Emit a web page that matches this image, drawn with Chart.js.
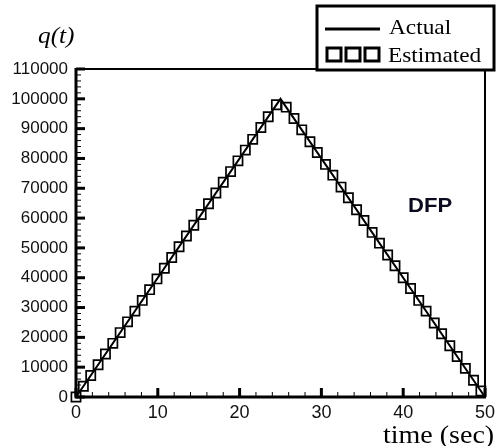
<!DOCTYPE html>
<html>
<head>
<meta charset="utf-8">
<script src="https://cdn.jsdelivr.net/npm/chart.js@4/dist/chart.umd.min.js"></script>
<style>
  html, body { margin: 0; padding: 0; background: #fff; }
  #wrap { width: 500px; height: 446px; }
</style>
</head>
<body>
<div id="wrap"><canvas id="qChart" width="500" height="446"></canvas></div>
<script>
// Actual trajectory (corner points of the triangle)
const actualTime = [0, 25, 50];
const actualQ = [0, 100000, 0];

// Estimated samples read off the markers
const estTime = [
    0, 0.9, 1.8, 2.7, 3.6, 4.5, 5.4, 6.3, 7.2, 8.1, 9.0, 9.9, 10.8, 11.7,
    12.6, 13.5, 14.4, 15.3, 16.2, 17.1, 18.0, 18.9, 19.8, 20.7, 21.6, 22.6, 23.5, 24.5,
    25.7, 26.65, 27.6, 28.6, 29.5, 30.5, 31.4, 32.4, 33.3, 34.3, 35.2, 36.2, 37.1,
    38.1, 39.0, 40.0, 40.9, 41.9, 42.8, 43.8, 44.7, 45.7, 46.6, 47.6, 48.6, 49.5
];
const estQ = [
    0, 3600, 7200, 10800, 14400, 18000, 21600, 25200, 28800, 32400, 36000, 39600, 43200, 46800,
    50400, 54000, 57600, 61200, 64800, 68400, 72000, 75600, 79200, 82800, 86400, 90400, 94000, 98000,
    97200, 93400, 89600, 85600, 82000, 78000, 74400, 70400, 66800, 62800, 59200, 55200, 51600,
    47600, 44000, 40000, 36400, 32400, 28800, 24800, 21200, 17200, 13600, 9600, 5600, 2000
];

// axis ticks
const xTickValues = [0, 10, 20, 30, 40, 50];
const yTickValues = [0, 10000, 20000, 30000, 40000, 50000, 60000, 70000, 80000, 90000, 100000, 110000];

const seriesNames = ["Actual", "Estimated"];

const toPoints = (xs, ys) => xs.map((v, i) => ({ x: v, y: ys[i] }));

// stretched text helper (the original figure is a bit wide)
function wideText(ctx, text, x, y, font, sx) {
    ctx.save();
    ctx.font = font;
    ctx.translate(x, y);
    ctx.scale(sx, 1);
    ctx.fillText(text, 0, 0);
    ctx.restore();
}

const frameAndLegend = {
    id: "frameAndLegend",
    afterDraw(chart) {
        const { ctx, chartArea: a, scales } = chart;
        const xs = scales.x, ys = scales.y;
        ctx.save();
        ctx.strokeStyle = "#000";
        ctx.fillStyle = "#000";

        // plot frame
        ctx.lineWidth = 2;
        ctx.strokeRect(a.left, a.top, a.right - a.left, a.bottom - a.top);
        ctx.lineWidth = 3;
        ctx.beginPath();
        ctx.moveTo(a.left, a.top - 1);
        ctx.lineTo(a.left, a.bottom + 1.5);
        ctx.moveTo(a.left - 1.5, a.bottom);
        ctx.lineTo(a.right + 1, a.bottom);
        ctx.stroke();

        // inward ticks on the left axis
        for (let v = 0; v <= 110000; v += 2000) {
            const py = ys.getPixelForValue(v);
            const major = v % 10000 === 0;
            ctx.lineWidth = major ? 3 : 1;
            ctx.beginPath();
            ctx.moveTo(a.left, py);
            ctx.lineTo(a.left + (major ? 9 : 5), py);
            ctx.stroke();
        }
        // inward ticks on the bottom axis
        for (let v = 0; v <= 50; v += 2) {
            const px = xs.getPixelForValue(v);
            const major = v % 10 === 0;
            ctx.lineWidth = major ? 3 : 1;
            ctx.beginPath();
            ctx.moveTo(px, a.bottom);
            ctx.lineTo(px, a.bottom - (major ? 9 : 5));
            ctx.stroke();
        }

        // legend box
        ctx.fillStyle = "#fff";
        ctx.fillRect(317, 6, 177, 64);
        ctx.lineWidth = 3;
        ctx.strokeRect(317, 6, 177, 64);
        ctx.fillStyle = "#000";

        ctx.lineWidth = 3;
        ctx.beginPath();
        ctx.moveTo(325, 29);
        ctx.lineTo(380, 29);
        ctx.stroke();
        ctx.lineWidth = 3;
        [327, 346, 365].forEach(sx => ctx.strokeRect(sx, 48, 14, 13));

        ctx.textBaseline = "alphabetic";
        wideText(ctx, seriesNames[0], 389, 34, '22px "Liberation Serif"', 1.06);
        wideText(ctx, seriesNames[1], 388, 62, '22px "Liberation Serif"', 1.06);

        // axis captions and annotation
        wideText(ctx, "q(t)", 38, 43, 'italic 23px "Liberation Serif"', 1.1);
        wideText(ctx, "time (sec)", 383, 443, '25px "Liberation Serif"', 1.12);
        ctx.fillStyle = "#0a0a1e";
        wideText(ctx, "DFP", 408, 212, 'bold 21px "Liberation Sans"', 1.05);

        ctx.restore();
    }
};

const ctxQ = document.getElementById("qChart");

new Chart(ctxQ, {
    type: "scatter",
    data: {
        datasets: [
            {
                label: seriesNames[0],
                data: toPoints(actualTime, actualQ),
                showLine: true,
                borderColor: "#000",
                borderWidth: 2,
                pointRadius: 0,
                clip: false,
                order: 0
            },
            {
                label: seriesNames[1],
                data: toPoints(estTime, estQ),
                showLine: false,
                pointStyle: "rect",
                pointRadius: 6.5,
                pointBorderWidth: 1.7,
                pointBorderColor: "#000",
                pointBackgroundColor: "rgba(0,0,0,0)",
                clip: false,
                order: 1
            }
        ]
    },
    options: {
        responsive: false,
        animation: false,
        events: [],
        layout: {
            padding: { top: 69, right: 9, left: 0, bottom: 0 }
        },
        plugins: {
            legend: { display: false },
            tooltip: { enabled: false }
        },
        scales: {
            x: {
                type: "linear",
                min: 0,
                max: 50,
                grid: { display: false, drawTicks: false },
                border: { display: false },
                afterBuildTicks: s => { s.ticks = xTickValues.map(v => ({ value: v })); },
                afterFit: s => { s.height = 49; },
                ticks: {
                    padding: 5,
                    color: "#111",
                    font: { family: "Liberation Sans", size: 18 }
                }
            },
            y: {
                type: "linear",
                min: 0,
                max: 110000,
                grid: { display: false, drawTicks: false },
                border: { display: false },
                afterBuildTicks: s => { s.ticks = yTickValues.map(v => ({ value: v })); },
                afterFit: s => { s.width = 76; },
                ticks: {
                    padding: 8,
                    color: "#111",
                    font: { family: "Liberation Sans", size: 17 },
                    callback: v => String(v)
                }
            }
        }
    },
    plugins: [frameAndLegend]
});
</script>
</body>
</html>
